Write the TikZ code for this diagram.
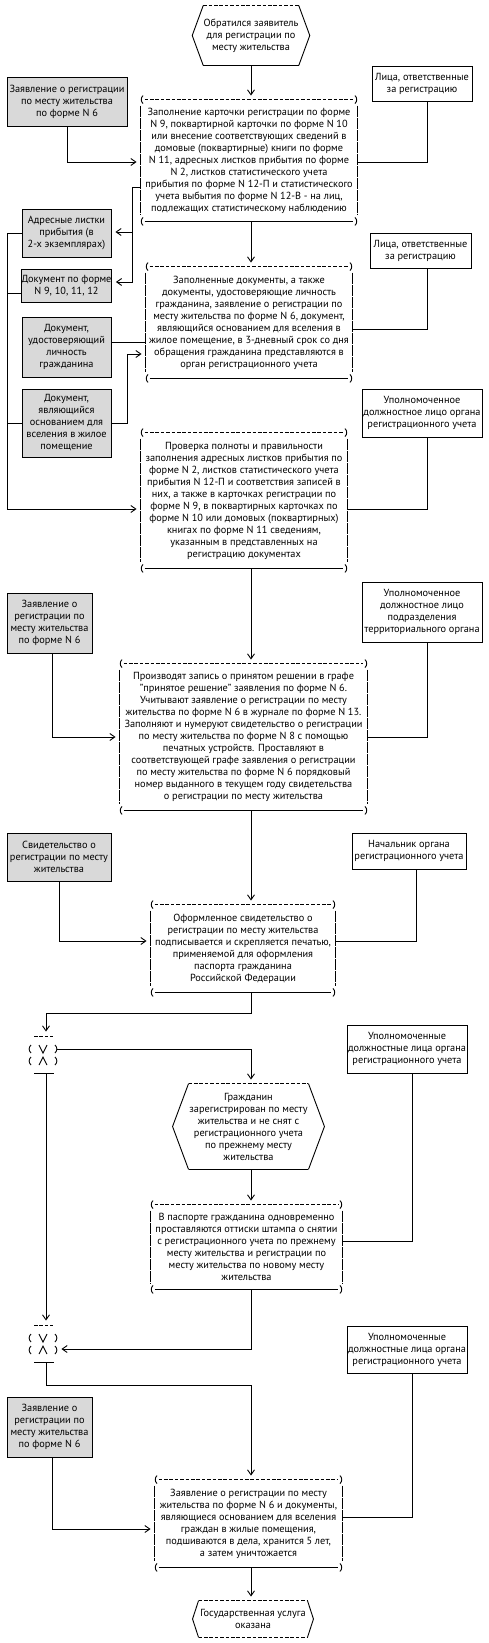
\documentclass[tikz,border=0pt]{standalone}
\usepackage{fontspec}
\setmainfont{PT Sans}
\usetikzlibrary{arrows.meta}
\newcommand\pborder[1]{%
  \draw[dsh] ([xshift=4pt]#1.north west) -- ([xshift=-4pt]#1.north east);
  \draw ([xshift=4pt]#1.south west) -- ([xshift=-4pt]#1.south east);
  \draw[sidedash] ([yshift=-6pt]#1.north west) -- ([yshift=6pt]#1.south west);
  \draw[sidedash] ([yshift=-6pt]#1.north east) -- ([yshift=6pt]#1.south east);
  \draw ([xshift=2.5pt,yshift=4pt]#1.north west) to[bend right=50] ([xshift=2.5pt,yshift=-4pt]#1.north west);
  \draw ([xshift=-2.5pt,yshift=4pt]#1.north east) to[bend left=50] ([xshift=-2.5pt,yshift=-4pt]#1.north east);
  \draw ([xshift=2.5pt,yshift=4pt]#1.south west) to[bend right=50] ([xshift=2.5pt,yshift=-4pt]#1.south west);
  \draw ([xshift=-2.5pt,yshift=4pt]#1.south east) to[bend left=50] ([xshift=-2.5pt,yshift=-4pt]#1.south east);
}
\newcommand\hexborder[4]{%
  \draw[#3] (#1.north west) -- (#1.north east);
  \draw[#4] (#1.south west) -- (#1.south east);
  \draw (#1.north west) -- ([xshift=-#2]#1.west) -- (#1.south west);
  \draw (#1.north east) -- ([xshift=#2]#1.east) -- (#1.south east);
}
\newcommand\junc[1]{%
  \begin{scope}[shift={(#1.center)}]
    \draw[dsh] (-9,-18.5) -- (10,-18.5);
    \draw (-9,18.5) -- (11,18.5);
    \draw (-12,-9.5) .. controls (-14.5,-7) and (-14.5,-4) .. (-12,-1.5);
    \draw (-12,2.5) .. controls (-14.5,5) and (-14.5,8) .. (-12,10.5);
    \draw (12,-9.5) .. controls (14.5,-7) and (14.5,-4) .. (12,-1.5);
    \draw (12,2.5) .. controls (14.5,5) and (14.5,8) .. (12,10.5);
    \draw (-4,-9.5) -- (0,-1.5) -- (4,-9.5);
    \draw (-4,10.5) -- (0,2.5) -- (4,10.5);
  \end{scope}
}
\begin{document}
\begin{tikzpicture}[x=1pt,y=-1pt, line width=0.9pt,
  txt/.style={font=\fontsize{10.3}{12}\selectfont, align=center, inner sep=0pt},
  gbox/.style={txt, draw, fill=gray!30},
  wbox/.style={txt, draw, fill=white},
  pbox/.style={txt},
  arr/.style={-{Straight Barb[length=5pt,width=7pt]}, shorten >=4pt},
  dsh/.style={dash pattern=on 3.6pt off 1.8pt},
  sidedash/.style={dash pattern=on 11pt off 1pt},
]
\fill[white] (0,0) rectangle (488,1643);
\useasboundingbox (0,0) rectangle (488,1643);

% ---------- nodes ----------
\node[pbox, minimum width=94pt, minimum height=59pt] (s) at (251,35.5) {Обратился заявитель\\для регистрации по\\месту жительства};
\node[pbox, minimum width=216pt, minimum height=121pt] (b1) at (249,160.5) {Заполнение карточки регистрации по форме\\N 9, поквартирной карточки по форме N 10\\или внесение соответствующих сведений в\\домовые (поквартирные) книги по форме\\N 11, адресных листков прибытия по форме\\N 2, листков статистического учета\\прибытия по форме N 12-П и статистического\\учета выбытия по форме N 12-В - на лиц,\\подлежащих статистическому наблюдению};
\node[gbox, minimum width=120pt, minimum height=49pt] (g1) at (67,101.5) {Заявление о регистрации\\по месту жительства\\по форме N 6};
\node[wbox, minimum width=100pt, minimum height=35pt] (r1) at (422,83.5) {Лица, ответственные\\за регистрацию};
\node[gbox, minimum width=89pt, minimum height=48pt] (g2) at (66.5,233) {Адресные листки\\прибытия (в\\2-х экземплярах)};
\node[gbox, minimum width=89pt, minimum height=33pt] (g3) at (66.5,285.5) {Документ по форме\\N 9, 10, 11, 12};
\node[gbox, minimum width=89pt, minimum height=60pt] (g4) at (66.5,347) {Документ,\\удостоверяющий\\личность\\гражданина};
\node[gbox, minimum width=89pt, minimum height=68pt] (g5) at (66.5,423) {Документ,\\являющийся\\основанием для\\вселения в жилое\\помещение};
\node[pbox, minimum width=206pt, minimum height=111pt] (b2) at (249,322.5) {Заполненные документы, а также\\документы, удостоверяющие личность\\гражданина, заявление о регистрации по\\месту жительства по форме N 6, документ,\\являющийся основанием для вселения в\\жилое помещение, в 3-дневный срок со дня\\обращения гражданина представляются в\\орган регистрационного учета};
\node[wbox, minimum width=101pt, minimum height=35pt] (r2) at (420.5,250.5) {Лица, ответственные\\за регистрацию};
\node[wbox, minimum width=120pt, minimum height=48pt] (r3) at (422,413) {Уполномоченное\\должностное лицо органа\\регистрационного учета};
\node[pbox, minimum width=206pt, minimum height=135pt] (b3) at (244,500.5) {Проверка полноты и правильности\\заполнения адресных листков прибытия по\\форме N 2, листков статистического учета\\прибытия N 12-П и соответствия записей в\\них, а также в карточках регистрации по\\форме N 9, в поквартирных карточках по\\форме N 10 или домовых (поквартирных)\\книгах по форме N 11 сведениям,\\указанным в представленных на\\регистрацию документах};
\node[gbox, minimum width=85pt, minimum height=60pt] (g6) at (49.5,623) {Заявление о\\регистрации по\\месту жительства\\по форме N 6};
\node[wbox, minimum width=120pt, minimum height=60pt] (r4) at (422,612) {Уполномоченное\\должностное лицо\\подразделения\\территориального органа};
\node[pbox, minimum width=247pt, minimum height=146pt] (b4) at (243.5,737) {Производят запись о принятом решении в графе\\"принятое решение" заявления по форме N 6.\\Учитывают заявление о регистрации по месту\\жительства по форме N 6 в журнале по форме N 13.\\Заполняют и нумеруют свидетельство о регистрации\\по месту жительства по форме N 8 с помощью\\печатных устройств. Проставляют в\\соответствующей графе заявления о регистрации\\по месту жительства по форме N 6 порядковый\\номер выданного в текущем году свидетельства\\о регистрации по месту жительства};
\node[gbox, minimum width=104pt, minimum height=48pt] (g7) at (59,857) {Свидетельство о\\регистрации по месту\\жительства};
\node[wbox, minimum width=114pt, minimum height=36pt] (r5) at (409,851) {Начальник органа\\регистрационного учета};
\node[pbox, minimum width=184pt, minimum height=87pt] (b5) at (243,948.5) {Оформленное свидетельство о\\регистрации по месту жительства\\подписывается и скрепляется печатью,\\применяемой для оформления\\паспорта гражданина\\Российской Федерации};
\node[minimum width=28pt, minimum height=37pt, inner sep=0pt] (j1) at (43,1054.5) {};
\node[pbox, minimum width=119pt, minimum height=85pt] (h2) at (248.5,1126.5) {Гражданин\\зарегистрирован по месту\\жительства и не снят с\\регистрационного учета\\по прежнему месту\\жительства};
\node[wbox, minimum width=120pt, minimum height=48pt] (r6) at (407,1049) {Уполномоченные\\должностные лица органа\\регистрационного учета};
\node[pbox, minimum width=191pt, minimum height=84pt] (b6) at (246.5,1247) {В паспорте гражданина одновременно\\проставляются оттиски штампа о снятии\\с регистрационного учета по прежнему\\месту жительства и регистрации по\\месту жительства по новому месту\\жительства};
\node[minimum width=28pt, minimum height=37pt, inner sep=0pt] (j2) at (43,1343.5) {};
\node[wbox, minimum width=120pt, minimum height=47pt] (r7) at (407,1349.5) {Уполномоченные\\должностные лица органа\\регистрационного учета};
\node[gbox, minimum width=85pt, minimum height=60pt] (g8) at (49.5,1427) {Заявление о\\регистрации по\\месту жительства\\по форме N 6};
\node[pbox, minimum width=187pt, minimum height=87pt] (b7) at (248.5,1523.5) {Заявление о регистрации по месту\\жительства по форме N 6 и документы,\\являющиеся основанием для вселения\\граждан в жилые помещения,\\подшиваются в дела, хранится 5 лет,\\а затем уничтожается};
\node[pbox, minimum width=108pt, minimum height=36pt] (e) at (253,1619) {Государственная услуга\\оказана};

% ---------- borders ----------
\hexborder{s}{11pt}{dsh}{}
\hexborder{h2}{16pt}{dsh}{}
\hexborder{e}{6pt}{dsh}{dsh}
\pborder{b1}\pborder{b2}\pborder{b3}\pborder{b4}\pborder{b5}\pborder{b6}\pborder{b7}
\junc{j1}\junc{j2}

% ---------- helper coordinates ----------
\coordinate (mx) at (251,0);
\coordinate (rx) at (427,0);
\coordinate (rx2) at (416,0);
\coordinate (rx3) at (412,0);
\coordinate (gx) at (52,0);
\coordinate (y162) at (0,162);
\coordinate (t1) at (132,187);
\coordinate (t2) at (132,232);
\coordinate (t3) at (132,282);
\coordinate (m1) at (7,509);
\coordinate (y293) at (0,293);
\coordinate (y342) at (0,342);
\coordinate (u5) at (127,354);
\coordinate (y329) at (0,329);
\coordinate (y737) at (0,737);
\coordinate (y941) at (0,941);
\coordinate (c1) at (46,1013);
\coordinate (y1049) at (0,1049);
\coordinate (y1241) at (0,1241);
\coordinate (y1349) at (0,1349);
\coordinate (c2) at (46,1385);
\coordinate (y1517) at (0,1517);
\coordinate (y1529) at (0,1529);

% ---------- connectors ----------
\draw[arr] (s.south -| mx) -- (b1.north -| mx);
\draw[arr] (g1.south) |- (b1.west |- y162);
\draw (r1.south -| rx) |- (b1.east |- y162);
\draw[arr] (b1.west |- t1) -| (t2) -- (g2.east |- t2);
\draw[arr] (t2) |- (g3.east |- t3);
\draw[arr] (g2.west) -| (m1) -- (b3.west |- m1);
\draw (g3.west |- y293) -- (m1 |- y293);
\draw (g5.west) -- (m1 |- g5.west);
\draw (g4.east |- y342) -- (b2.west |- y342);
\draw[arr] (g5.east) -| (u5) -- (b2.west |- u5);
\draw[arr] (b1.south -| mx) -- (b2.north -| mx);
\draw (r2.south -| rx) |- (b2.east |- y329);
\draw (r3.south -| rx) |- (b3.east |- m1);
\draw[arr] (b3.south -| mx) -- (b4.north -| mx);
\draw[arr] (g6.south -| gx) |- (b4.west |- y737);
\draw (r4.south -| rx) |- (b4.east |- y737);
\draw[arr] (b4.south -| mx) -- (b5.north -| mx);
\draw[arr] (g7.south) |- (b5.west |- y941);
\draw (r5.south -| rx2) |- (b5.east |- y941);
\draw[arr] (b5.south -| mx) |- (c1) -- (j1.north -| c1);
\draw[arr] (j1.east |- y1049) -| (h2.north -| mx);
\draw[arr] (h2.south -| mx) -- (b6.north -| mx);
\draw (r6.south -| rx3) |- (b6.east |- y1241);
\draw[arr] (j1.south -| c1) -- (j2.north -| c1);
\draw[arr] (b6.south -| mx) |- (j2.east |- y1349);
\draw[arr] (j2.south -| c1) |- (c2 -| mx) -- (b7.north -| mx);
\draw (r7.south -| rx3) |- (b7.east |- y1517);
\draw[arr] (g8.south -| gx) |- (b7.west |- y1529);
\draw[arr] (b7.south -| mx) -- (e.north -| mx);
\end{tikzpicture}
\end{document}
